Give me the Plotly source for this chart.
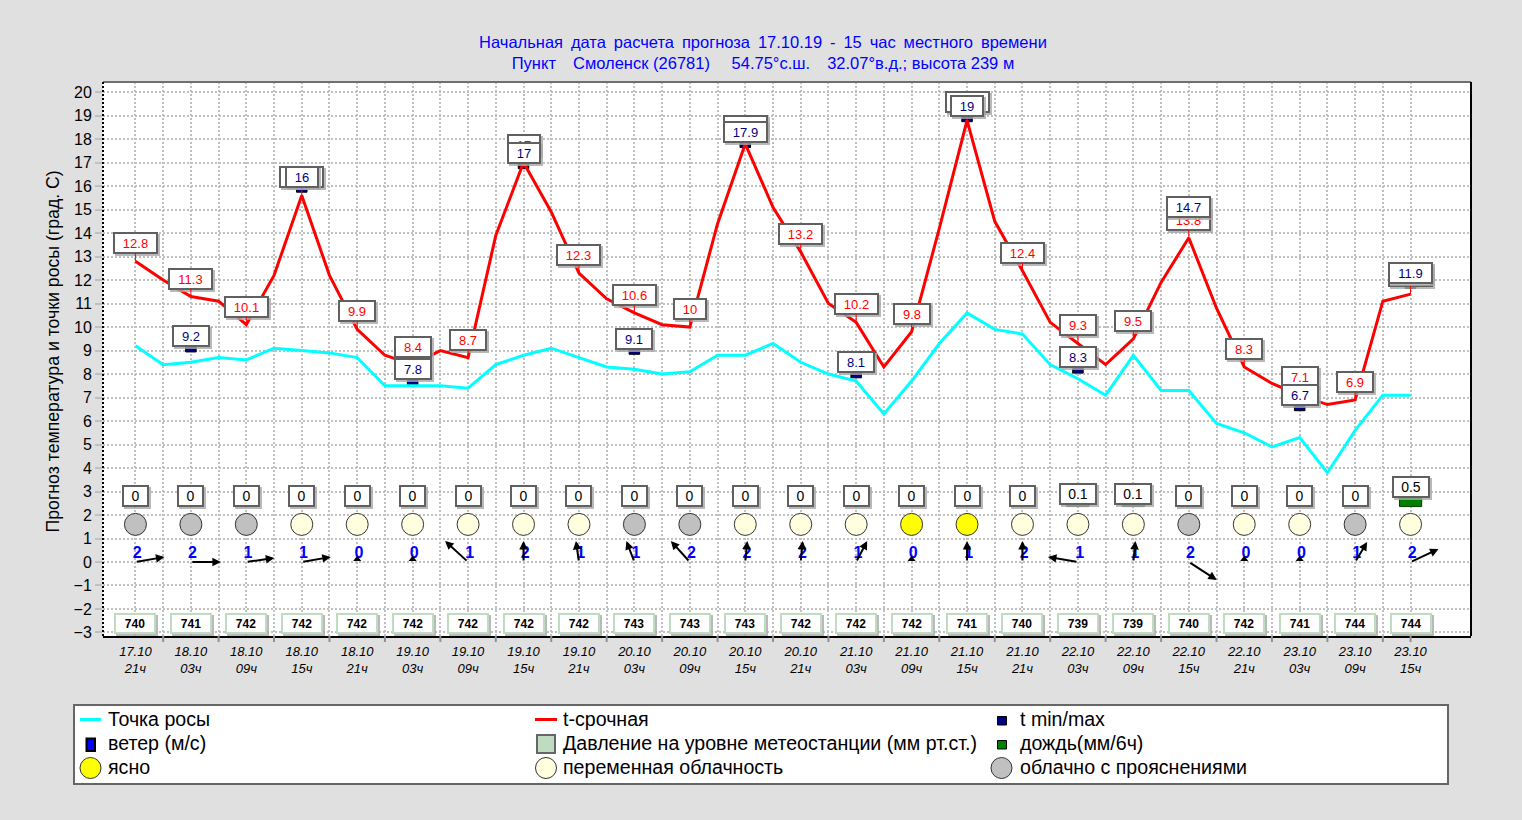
import plotly.graph_objects as go

PX_X, PX_Y = 27.72, 23.5
W, H = 1522, 820
L, R, T, B = 103, 1471, 82, 636

t_hourly = [12.8,12.0,11.3,11.1,10.1,12.2,15.6,12.2,9.9,8.8,8.4,9.0,8.7,13.9,17.0,14.9,12.3,11.2,10.6,10.1,10.0,14.4,17.8,15.1,13.2,11.0,10.2,8.3,9.8,14.2,18.8,14.5,12.4,10.2,9.3,8.4,9.5,11.9,13.8,10.8,8.3,7.6,7.1,6.7,6.9,11.1,11.4]
dew = [9.2,8.4,8.5,8.7,8.6,9.1,9.0,8.9,8.7,7.5,7.5,7.5,7.4,8.4,8.8,9.1,8.7,8.3,8.2,8.0,8.1,8.8,8.8,9.3,8.5,8.0,7.7,6.3,7.7,9.3,10.6,9.9,9.7,8.4,7.8,7.1,8.8,7.3,7.3,5.9,5.5,4.9,5.3,3.8,5.6,7.1,7.1]
t_labels = ["12.8","11.3","10.1","15.6","9.9","8.4","8.7","17","12.3","10.6","10","17.8","13.2","10.2","9.8","18.8","12.4","9.3","9.5","13.8","8.3","7.1","6.9","11.4"]
ext_idx = [2,6,10,14,18,22,26,30,34,38,42,46]
ext_val = [9.2,16,7.8,17,9.1,17.9,8.1,19,8.3,14.7,6.7,11.9]
rain = [0]*17 + [0.1,0.1] + [0,0,0,0] + [0.5]
pressure = [740,741,742,742,742,742,742,742,742,743,743,743,742,742,742,741,740,739,739,740,742,741,744,744]
wind = [2,2,1,1,0,0,1,2,1,1,2,2,2,1,0,1,2,1,1,2,0,0,1,2]
wind_dx = [29,30,28,29,0,0,-23,0,-3,-8,-19,2,2,11,0,0,0,-30,2,28,0,0,12,28]
wind_dy = [-5,0,-4,-5,0,0,-21,-21,-21,-21,-21,-21,-21,-21,0,-21,-21,-5,-21,18,0,0,-20,-13]
cloud = list("gggcccccc" "gg" "ccc" "yy" "ccc" "g" "cc" "g" "c")
dates = ["17.10","18.10","18.10","18.10","18.10","19.10","19.10","19.10","19.10","20.10","20.10","20.10","20.10","21.10","21.10","21.10","21.10","22.10","22.10","22.10","22.10","23.10","23.10","23.10"]
hours = ["21ч","03ч","09ч","15ч","21ч","03ч","09ч","15ч","21ч","03ч","09ч","15ч","21ч","03ч","09ч","15ч","21ч","03ч","09ч","15ч","21ч","03ч","09ч","15ч"]
names = ["Точка росы","t-срочная","t min/max","ветер (м/с)","Давление на уровне метеостанции (мм рт.ст.)","дождь(мм/6ч)","ясно","переменная облачность","облачно с прояснениями"]

idx = list(range(0, 47, 2))
FONT = "Liberation Sans, Arial, sans-serif"
C_Y, C_C, C_G = "#ffff00", "#ffffe0", "#c0c0c0"
fig = go.Figure()
fig.add_trace(go.Scatter(x=list(range(47)), y=dew, name=names[0], mode="lines", line=dict(color="#00ffff", width=3)))
fig.add_trace(go.Scatter(x=list(range(47)), y=t_hourly, name=names[1], mode="lines", line=dict(color="#ff0000", width=3)))
fig.add_trace(go.Bar(x=ext_idx, y=[0.26]*12, base=[v-0.26 for v in ext_val], width=0.38, name=names[2],
                     marker=dict(color="#000080", line=dict(color="#000000", width=1))))
fig.add_trace(go.Bar(x=idx, y=rain, base=[2.36]*24, width=0.8, name=names[5],
                     marker=dict(color="#008000", line=dict(color="#004000", width=1))))
for code, col, nm in [("y",C_Y,names[6]),("c",C_C,names[7]),("g",C_G,names[8])]:
    xs = [i for i,c in zip(idx,cloud) if c==code]
    fig.add_trace(go.Scatter(x=xs, y=[1.6]*len(xs), name=nm, mode="markers",
                             marker=dict(size=22, color=col, line=dict(color="#333", width=1))))
fig.add_trace(go.Scatter(x=[i+0.06 for i in idx], y=[0.33]*24, mode="text", text=[str(w) for w in wind], name=names[3],
                         textfont=dict(family=FONT, size=16, color="#0000ff", weight="bold")))
calm = [i for i,w in zip(idx,wind) if w==0]
fig.add_trace(go.Scatter(x=calm, y=[0.12]*len(calm), mode="markers", name="штиль",
                         marker=dict(symbol="triangle-up", size=7, color="#000000", line=dict(width=0))))

ann = []
def box(x, y, text, w, h, color, up=0, bcolor="#606060", size=13, weight="normal", stem=False, bw=2):
    ann.append(dict(x=x, y=y, xref="x", yref="y", text="&nbsp;", showarrow=False, width=w, height=h, bgcolor="#a8a8a8",
                    borderwidth=0, borderpad=0, xshift=2, yshift=up-2, opacity=0.8, font=dict(size=8)))
    ann.append(dict(x=x, y=y, xref="x", yref="y", text=text, width=w-bw*2, height=h-bw*2, bgcolor="#ffffff",
                    bordercolor=bcolor, borderwidth=bw, borderpad=0,
                    font=dict(family=FONT, size=size, color=color, weight=weight),
                    **(dict(showarrow=True, ax=0, ay=-up, arrowhead=0, arrowwidth=1, arrowcolor=color) if stem else dict(showarrow=False, yshift=up))))

for i, s in zip(idx, t_labels):
    v = t_hourly[i]
    w = 45 if len(s)==4 else (38 if len(s)==3 else 34)
    box(i, v, s, w, 22, "#ff0000", up=18, stem=True)
for i, v in zip(ext_idx, ext_val):
    s = str(v)
    w = 45 if len(s)==4 else (38 if len(s)==3 else 34)
    box(i, v, s, w, 22, "#000080", up=9.5)
for i, r in zip(idx, rain):
    box(i, 2.82+0.76*r, str(r), 38 if r else 27, 22, "#000000", size=14)
for i, p in zip(idx, pressure):
    box(i, -2.6, str(p), 42, 21, "#000000", bcolor="#c0dcc0", size=12, weight="bold")
for i, dx, dy in zip(idx, wind_dx, wind_dy):
    if dx or dy:
        ann.append(dict(x=i+dx/PX_X, y=-dy/PX_Y, xref="x", yref="y", ax=-dx, ay=-dy, axref="pixel", ayref="pixel", text="",
                        showarrow=True, arrowhead=2, arrowsize=0.85, arrowwidth=2, arrowcolor="#000000"))

px = lambda v: (v-L)/(R-L)
py = lambda v: (B-v)/(B-T)
P = dict(xref="paper", yref="paper")
shapes = [
    dict(type="line", x0=0, x1=1, y0=1, y1=1, line=dict(color="#707070", width=2), **P),
    dict(type="line", x0=1, x1=1, y0=0, y1=1, line=dict(color="#000000", width=2), **P),
    dict(type="line", x0=0, x1=0, y0=0, y1=1, line=dict(color="#000000", width=2, dash="2px,2px"), **P),
]
for i in list(range(1, 47, 2)) + [46]:
    shapes.append(dict(type="line", xref="x", yref="paper", x0=i, x1=i, y0=0, y1=-6/(B-T), line=dict(color="#909090", width=2)))

# legend box
shapes.append(dict(type="rect", x0=px(74), x1=px(1448), y0=py(705), y1=py(784), fillcolor="#ffffff", line=dict(color="#666666", width=2), **P))
def rect(x0, x1, y0, y1, fill, line, w):
    shapes.append(dict(type="rect", x0=px(x0), x1=px(x1), y0=py(y0), y1=py(y1), fillcolor=fill, line=dict(color=line, width=w), **P))
def circ(cx, cy, fill):
    shapes.append(dict(type="circle", x0=px(cx-10.5), x1=px(cx+10.5), y0=py(cy-10.5), y1=py(cy+10.5), fillcolor=fill, line=dict(color="#333", width=1), **P))
def ln(x0, x1, y, col):
    shapes.append(dict(type="line", x0=px(x0), x1=px(x1), y0=py(y), y1=py(y), line=dict(color=col, width=3), **P))
ln(80, 101, 719.5, "#00ffff")
ln(535, 557, 719.5, "#ff0000")
rect(997.5, 1006.5, 716.5, 725, "#000080", "#000000", 1)
rect(86.5, 95, 738.5, 751, "#0000ff", "#000000", 2)
rect(537, 555, 735, 753, "#c0dcc0", "#666666", 2)
rect(997.5, 1006.5, 740.5, 749, "#008000", "#000000", 1)
circ(90.5, 768, C_Y); circ(546, 768, C_C); circ(1001.5, 768, C_G)
for k, nm in enumerate(names):
    col, row = [(0,0),(1,0),(2,0),(0,1),(1,1),(2,1),(0,2),(1,2),(2,2)][k]
    ann.append(dict(x=px([106.5,562,1019][col]), y=py(719+24*row), xref="paper", yref="paper", text=nm, showarrow=False,
                    xanchor="left", yanchor="middle", font=dict(family=FONT, size=19.6, color="#000"), borderpad=0))
# y title
ann.append(dict(x=px(52), y=py(351.5), xref="paper", yref="paper", text="Прогноз температура и точки росы (град. С)", textangle=-90,
                xanchor="center", yanchor="middle", showarrow=False, font=dict(family=FONT, size=17.7, color="#000")))

GRID = dict(gridcolor="#c0c0c0", gridwidth=2, griddash="2px,2px")
SP = " \u2009"
line1 = SP.join(["Начальная","дата","расчета","прогноза","17.10.19","-","15","час","местного","времени"])
line2 = "Пункт" + "  " + SP + "Смоленск (26781)" + "   " + SP + "54.75°с.ш." + "  " + SP + "32.07°в.д.; высота 239 м"
tick_text = []
for i in range(47):
    tick_text.append(f"{dates[i//2]}<br>{hours[i//2]}" if i % 2 == 0 else "")
fig.update_layout(
    width=W, height=H, autosize=False, showlegend=False,
    margin=dict(l=L, r=W-R, t=T, b=H-B, autoexpand=False),
    paper_bgcolor="#e0e0e0", plot_bgcolor="#ffffff",
    barmode="overlay", font=dict(family=FONT, color="#000000"),
    title=dict(text=line1+"<br>"+line2, x=763/W, xanchor="center", y=1-48/H, yanchor="middle",
               font=dict(family=FONT, size=16.5, color="#0000ff")),
    xaxis=dict(range=[-1.17, 48.18], tickvals=list(range(47)), ticktext=tick_text, ticks="", showline=True, linecolor="#000", linewidth=2,
               ticklabelstandoff=2, tickfont=dict(family=FONT, size=13, style="italic", color="#000"), zeroline=False, **GRID),
    yaxis=dict(range=[-3.15, 20.43], tick0=0, dtick=1, showline=False, ticks="outside", ticklen=7, tickcolor="#c0c0c0", tickwidth=2, zeroline=False, **GRID,
               tickfont=dict(family=FONT, size=16, color="#000")),
    annotations=ann, shapes=shapes,
)
fig.write_html("out.html", post_script="document.body.style.margin='0';", config=dict(displayModeBar=False))
